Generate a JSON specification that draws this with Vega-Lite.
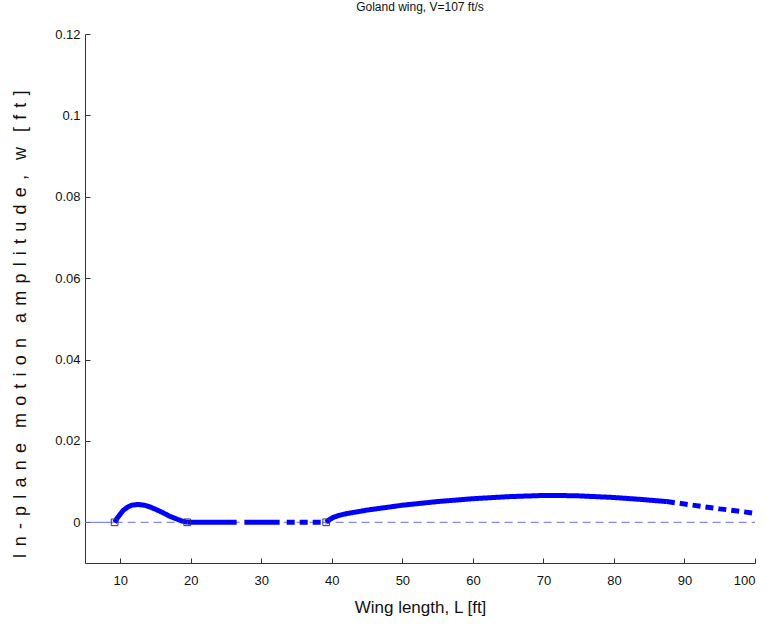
{
  "$schema": "https://vega.github.io/schema/vega-lite/v6.json",
  "autosize": "none",
  "width": 670,
  "height": 529,
  "padding": {"left": 85, "top": 34, "right": 12, "bottom": 66},
  "background": "white",
  "config": {
    "view": {"stroke": null},
    "font": "Liberation Sans",
    "axis": {
      "grid": false,
      "domainColor": "#333333",
      "tickColor": "#333333",
      "tickSize": -5,
      "labelFont": "Liberation Sans",
      "labelFontSize": 13,
      "labelColor": "#111111",
      "titleFont": "Liberation Sans",
      "titleFontWeight": "normal",
      "titleFontSize": 17,
      "titleColor": "#111111"
    }
  },
  "title": {
    "text": "Goland wing, V=107 ft/s",
    "fontSize": 12,
    "fontWeight": "normal",
    "font": "Liberation Sans",
    "color": "#111111",
    "anchor": "middle",
    "offset": 14
  },
  "datasets": {
    "curve": [
      {"L": 9.2, "w": 0.0, "seg": "a", "style": "solid"},
      {"L": 9.6, "w": 0.0011, "seg": "a", "style": "solid"},
      {"L": 10.0, "w": 0.0020, "seg": "a", "style": "solid"},
      {"L": 10.4, "w": 0.0029, "seg": "a", "style": "solid"},
      {"L": 11.0, "w": 0.0037, "seg": "a", "style": "solid"},
      {"L": 11.6, "w": 0.0042, "seg": "a", "style": "solid"},
      {"L": 12.5, "w": 0.0044, "seg": "a", "style": "solid"},
      {"L": 13.4, "w": 0.0042, "seg": "a", "style": "solid"},
      {"L": 14.2, "w": 0.0038, "seg": "a", "style": "solid"},
      {"L": 15.0, "w": 0.0032, "seg": "a", "style": "solid"},
      {"L": 16.0, "w": 0.0024, "seg": "a", "style": "solid"},
      {"L": 17.0, "w": 0.0015, "seg": "a", "style": "solid"},
      {"L": 18.0, "w": 0.0008, "seg": "a", "style": "solid"},
      {"L": 18.8, "w": 0.0003, "seg": "a", "style": "solid"},
      {"L": 19.5, "w": 0.0, "seg": "a", "style": "solid"},
      {"L": 19.5, "w": 0.0, "seg": "b", "style": "solid"},
      {"L": 26.5, "w": 0.0, "seg": "b", "style": "solid"},
      {"L": 27.6, "w": 0.0, "seg": "c", "style": "solid"},
      {"L": 32.6, "w": 0.0, "seg": "c", "style": "solid"},
      {"L": 33.6, "w": 0.0, "seg": "d", "style": "dashed"},
      {"L": 39.2, "w": 0.0, "seg": "d", "style": "dashed"},
      {"L": 39.2, "w": 0.0, "seg": "e", "style": "solid"},
      {"L": 39.6, "w": 0.0006, "seg": "e", "style": "solid"},
      {"L": 40.2, "w": 0.0012, "seg": "e", "style": "solid"},
      {"L": 41.0, "w": 0.0017, "seg": "e", "style": "solid"},
      {"L": 42.0, "w": 0.0021, "seg": "e", "style": "solid"},
      {"L": 43.0, "w": 0.0024, "seg": "e", "style": "solid"},
      {"L": 45.0, "w": 0.0030, "seg": "e", "style": "solid"},
      {"L": 47.5, "w": 0.0036, "seg": "e", "style": "solid"},
      {"L": 50.0, "w": 0.0042, "seg": "e", "style": "solid"},
      {"L": 55.0, "w": 0.0051, "seg": "e", "style": "solid"},
      {"L": 60.0, "w": 0.0058, "seg": "e", "style": "solid"},
      {"L": 65.0, "w": 0.0063, "seg": "e", "style": "solid"},
      {"L": 70.0, "w": 0.0066, "seg": "e", "style": "solid"},
      {"L": 72.0, "w": 0.0066, "seg": "e", "style": "solid"},
      {"L": 75.0, "w": 0.0065, "seg": "e", "style": "solid"},
      {"L": 80.0, "w": 0.0061, "seg": "e", "style": "solid"},
      {"L": 84.0, "w": 0.0056, "seg": "e", "style": "solid"},
      {"L": 87.5, "w": 0.0051, "seg": "e", "style": "solid"},
      {"L": 87.5, "w": 0.0051, "seg": "f", "style": "dashed"},
      {"L": 90.0, "w": 0.0045, "seg": "f", "style": "dashed"},
      {"L": 92.5, "w": 0.0039, "seg": "f", "style": "dashed"},
      {"L": 95.0, "w": 0.0033, "seg": "f", "style": "dashed"},
      {"L": 97.5, "w": 0.0028, "seg": "f", "style": "dashed"},
      {"L": 100.0, "w": 0.0022, "seg": "f", "style": "dashed"}
    ],
    "baseline": [
      {"L": 5, "w": 0, "part": "lead", "style": "solid"},
      {"L": 9.2, "w": 0, "part": "lead", "style": "solid"},
      {"L": 9.2, "w": 0, "part": "rest", "style": "dashed"},
      {"L": 100, "w": 0, "part": "rest", "style": "dashed"}
    ],
    "roots": [
      {"L": 9.2, "w": 0},
      {"L": 19.5, "w": 0},
      {"L": 39.2, "w": 0}
    ]
  },
  "encoding": {
    "x": {
      "field": "L",
      "type": "quantitative",
      "scale": {"domain": [5, 100], "nice": false, "zero": false},
      "axis": {
        "title": "Wing length, L [ft]",
        "values": [10, 20, 30, 40, 50, 60, 70, 80, 90, 100],
        "labelPadding": 16,
        "titlePadding": 12
      }
    },
    "y": {
      "field": "w",
      "type": "quantitative",
      "scale": {"domain": [-0.01, 0.12], "nice": false, "zero": false},
      "axis": {
        "title": "I\u2009\u2009n\u2009\u2009-\u2009\u2009p\u2009\u2009l\u2009\u2009a\u2009\u2009n\u2009\u2009e\u00a0\u00a0\u00a0m\u2009\u2009o\u2009\u2009t\u2009\u2009i\u2009\u2009o\u2009\u2009n\u00a0\u00a0\u00a0a\u2009\u2009m\u2009\u2009p\u2009\u2009l\u2009\u2009i\u2009\u2009t\u2009\u2009u\u2009\u2009d\u2009\u2009e\u2009\u2009,\u00a0\u00a0\u00a0w\u00a0\u00a0\u00a0[\u2009\u2009f\u2009\u2009t\u2009\u2009]",
        "titleFontSize": 18,
        "titleX": -65,
        "titleY": 290,
        "titleAngle": -90,
        "titleAlign": "center",
        "titleBaseline": "middle",
        "values": [0, 0.02, 0.04, 0.06, 0.08, 0.1, 0.12],
        "format": ".2~f",
        "labelPadding": 10
      }
    }
  },
  "layer": [
    {
      "data": {"name": "baseline"},
      "mark": {"type": "line", "color": "#6b6bef", "strokeWidth": 1},
      "encoding": {
        "detail": {"field": "part"},
        "strokeDash": {
          "field": "style",
          "type": "nominal",
          "scale": {"domain": ["solid", "dashed"], "range": [[1, 0], [8, 5]]},
          "legend": null
        }
      }
    },
    {
      "data": {"name": "curve"},
      "mark": {"type": "line", "color": "#0000ff", "strokeWidth": 5, "strokeCap": "butt", "strokeJoin": "round"},
      "encoding": {
        "detail": {"field": "seg"},
        "strokeDash": {
          "field": "style",
          "type": "nominal",
          "scale": {"domain": ["solid", "dashed"], "range": [[1, 0], [7, 4]]},
          "legend": null
        }
      }
    },
    {
      "data": {"name": "roots"},
      "mark": {"type": "point", "shape": "square", "filled": false, "size": 45, "color": "#303080", "strokeWidth": 1, "opacity": 1}
    }
  ]
}
